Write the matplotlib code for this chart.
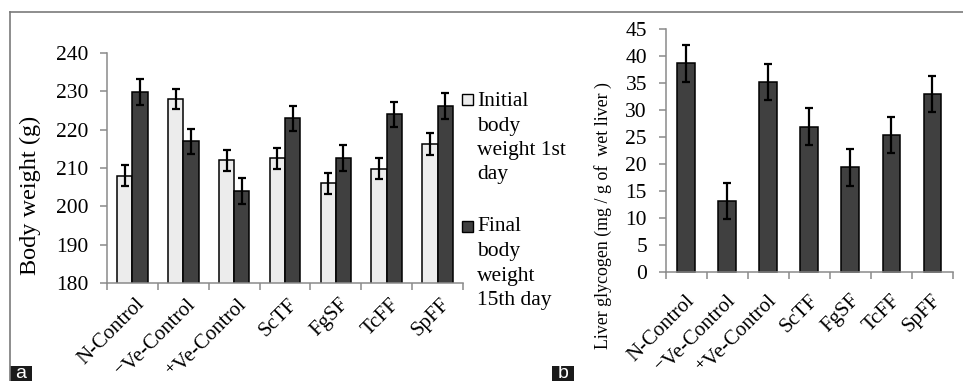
import matplotlib
matplotlib.use("Agg")
import matplotlib.pyplot as plt
from matplotlib.patches import Rectangle
from matplotlib.lines import Line2D
from matplotlib.transforms import ScaledTranslation
import numpy as np

plt.rcParams['font.family'] = ['Liberation Serif', 'DejaVu Serif']

categories = ['N-Control', '\u207bVe-Control', '\u207aVe-Control', 'ScTF', 'FgSF', 'TcFF', 'SpFF']

initial_weight = [208.0, 228.0, 212.0, 212.5, 206.0, 209.8, 216.3]
initial_err = [2.7, 2.7, 2.7, 2.7, 2.7, 2.7, 2.8]
final_weight = [229.8, 217.0, 204.0, 223.0, 212.5, 224.0, 226.2]
final_err = [3.3, 3.3, 3.3, 3.3, 3.4, 3.3, 3.4]

glycogen = [38.7, 13.1, 35.2, 26.9, 19.4, 25.4, 33.0]
glycogen_err = [3.4, 3.4, 3.4, 3.4, 3.4, 3.3, 3.4]

legend_labels = ['Initial\nbody\nweight 1st\nday', 'Final\nbody\nweight\n15th day']

W, H = 963, 381
fig = plt.figure(figsize=(W / 100, H / 100), dpi=100)

LIGHT = '#ececec'
DARK = '#404040'
SPINE = '#8a8a8a'

def px(x0, y0, x1, y1):
    return [x0 / W, 1 - y1 / H, (x1 - x0) / W, (y1 - y0) / H]

def style_axes(ax, tick_fs, xlab_fs, dx, pad):
    for s in ['top', 'right']:
        ax.spines[s].set_visible(False)
    for s in ['left', 'bottom']:
        ax.spines[s].set_color(SPINE)
        ax.spines[s].set_linewidth(1.1)
    ax.tick_params(axis='y', direction='out', length=5, width=1.1, color=SPINE,
                   labelsize=tick_fs, pad=8.5)
    n = len(categories)
    ax.set_xticks(np.arange(n))
    ax.set_xticklabels(categories, rotation=45, ha='right', va='top',
                       rotation_mode='anchor', fontsize=xlab_fs)
    ax.tick_params(axis='x', which='major', length=0, pad=pad)
    off = ScaledTranslation(dx / 100, 0, fig.dpi_scale_trans)
    for lab in ax.get_xticklabels():
        lab.set_transform(lab.get_transform() + off)
    ax.set_xticks(np.arange(n + 1) - 0.5, minor=True)
    ax.tick_params(axis='x', which='minor', direction='out', length=5, width=1.1, color=SPINE)

ekw = dict(ecolor='black', elinewidth=1.6, capsize=3.2, capthick=1.6)
x = np.arange(len(categories))

# ---------- Panel a ----------
ax1 = fig.add_axes(px(107, 53, 463, 283))
bw = 0.3
ax1.bar(x - bw / 2, initial_weight, bw, color=LIGHT, edgecolor='black',
        linewidth=1.1, yerr=initial_err, error_kw=ekw, zorder=2)
ax1.bar(x + bw / 2, final_weight, bw, color=DARK, edgecolor='black',
        linewidth=1.1, yerr=final_err, error_kw=ekw, zorder=2)
ax1.set_ylim(180, 240)
ax1.set_yticks(np.arange(180, 241, 10))
ax1.set_xlim(-0.5, len(categories) - 0.5)
style_axes(ax1, 15.5, 15, 3, 8.5)
fig.text(30 / W, 1 - 195 / H, 'Body weight (g)', rotation=90, ha='center', va='center',
         fontsize=17.5)

# legend (manual)
for lab, col, sq_top, base0 in zip(legend_labels, [LIGHT, DARK], [93.5, 221], [106, 231.5]):
    fig.patches.append(Rectangle((462 / W, 1 - (sq_top + 11) / H), 11 / W, 11 / H,
                                 transform=fig.transFigure, facecolor=col,
                                 edgecolor='black', linewidth=1.0))
    for i, line in enumerate(lab.split('\n')):
        fig.text(477 / W, 1 - (base0 + 24.5 * i) / H, line, ha='left', va='baseline',
                 fontsize=15.5)

# ---------- Panel b ----------
ax2 = fig.add_axes(px(665.7, 29.3, 953, 271.7))
bw2 = 0.435
ax2.bar(x, glycogen, bw2, color=DARK, edgecolor='black', linewidth=1.1,
        yerr=glycogen_err, error_kw=ekw, zorder=2, clip_on=False)
ax2.set_ylim(0, 45)
ax2.set_yticks(np.arange(0, 46, 5))
ax2.set_xlim(-0.5, 6.2)
style_axes(ax2, 15.5, 15, -1, 14)
fig.text(603 / W, 1 - 216 / H, 'Liver glycogen (mg / g of  wet liver )', rotation=90,
         ha='center', va='center', fontsize=12.9)

# ---------- frame lines and panel labels ----------
fig.lines.append(Line2D([10 / W, 1], [1 - 12 / H] * 2, transform=fig.transFigure,
                        color='#7a7a7a', linewidth=1.2))
fig.lines.append(Line2D([10 / W] * 2, [1 - 12 / H, 0], transform=fig.transFigure,
                        color='#7a7a7a', linewidth=1.2))
for lab, x0 in [('a', 10), ('b', 552)]:
    fig.patches.append(Rectangle((x0 / W, 0), 22 / W, 15 / H, transform=fig.transFigure,
                                 facecolor='#1a1a1a', edgecolor='none'))
    fig.text((x0 + 11) / W, 7 / H, lab, ha='center', va='center', color='white',
             fontsize=14, family='Liberation Sans')

fig.savefig('out.png', dpi=100)
